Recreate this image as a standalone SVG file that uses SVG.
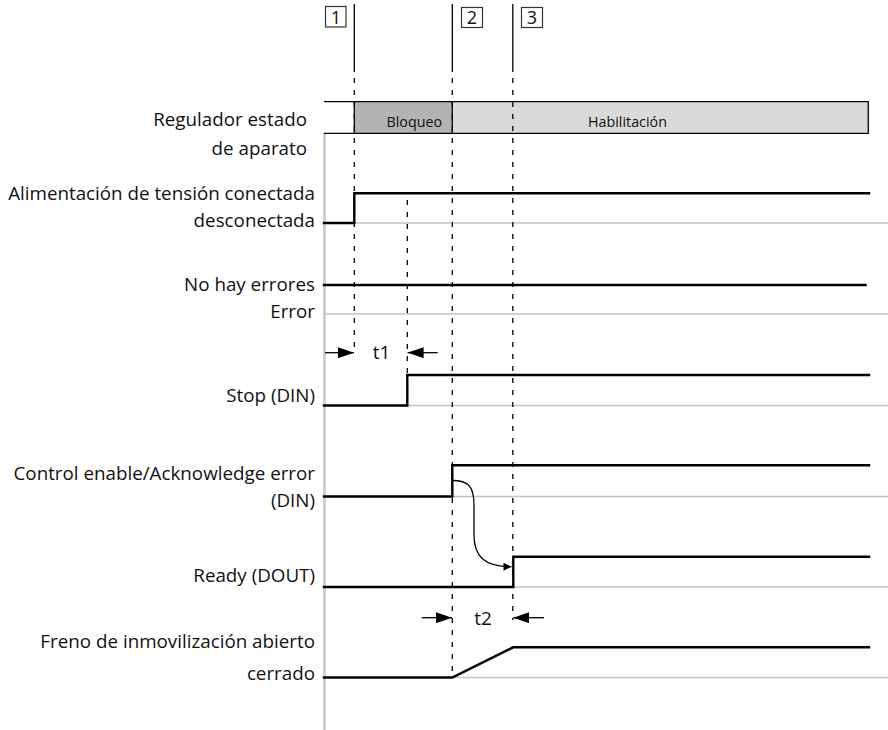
<svg xmlns="http://www.w3.org/2000/svg" width="888" height="730" viewBox="0 0 888 730">
<defs>
<style>
.lbl{font-family:"Open Sans","Noto Sans","Liberation Sans",sans-serif;font-size:18.8px;fill:#111;text-anchor:end}
.sm{font-family:"Open Sans","Noto Sans","Liberation Sans",sans-serif;font-size:14.3px;fill:#111}
.num{font-family:"Open Sans","Noto Sans","Liberation Sans",sans-serif;font-size:18px;fill:#111;text-anchor:middle}
.t{font-family:"Open Sans","Noto Sans","Liberation Sans",sans-serif;font-size:19px;fill:#111;text-anchor:middle}
.base{stroke:#c4c4c4;stroke-width:1.6;fill:none}
.sig{stroke:#000;stroke-width:2.4;fill:none;stroke-linejoin:miter;stroke-linecap:square}
.solid{stroke:#000;stroke-width:1.3;fill:none}
.dash{stroke:#000;stroke-width:1.3;fill:none;stroke-dasharray:5 7}
.box{fill:#fff;stroke:#333;stroke-width:1.2}
.arr{stroke:#000;stroke-width:1.3;fill:none}
</style>
<marker id="ah" viewBox="0 0 16 11" refX="16" refY="5.5" markerWidth="16" markerHeight="11" markerUnits="userSpaceOnUse" orient="auto">
<path d="M0,0 L16,5.5 L0,11 z" fill="#000"/>
</marker>
<marker id="ahs" viewBox="0 0 10 10" refX="10" refY="5" markerWidth="9" markerHeight="8" markerUnits="userSpaceOnUse" orient="auto">
<path d="M0,0 L10,5 L0,10 z" fill="#000"/>
</marker>
</defs>
<rect width="888" height="730" fill="#fff"/>

<g id="labels">
<text class="lbl" x="307" y="125.5">Regulador estado</text>
<text class="lbl" x="307" y="155">de aparato</text>
<text class="lbl" x="315" y="200">Alimentación de tensión conectada</text>
<text class="lbl" x="315" y="227">desconectada</text>
<text class="lbl" x="315" y="291">No hay errores</text>
<text class="lbl" x="315" y="318">Error</text>
<text class="lbl" x="315" y="401.5">Stop (DIN)</text>
<text class="lbl" x="315" y="480">Control enable/Acknowledge error</text>
<text class="lbl" x="315" y="507">(DIN)</text>
<text class="lbl" x="315" y="581.5">Ready (DOUT)</text>
<text class="lbl" x="315" y="648">Freno de inmovilización abierto</text>
<text class="lbl" x="315" y="680">cerrado</text>
</g>

<g id="axis">
<line x1="324.5" y1="133" x2="324.5" y2="730" stroke="#c8c8c8" stroke-width="2.6"/>
<line class="base" x1="324" y1="223" x2="888" y2="223"/>
<line class="base" x1="324" y1="314" x2="888" y2="314"/>
<line class="base" x1="324" y1="405.5" x2="888" y2="405.5"/>
<line class="base" x1="324" y1="496.5" x2="888" y2="496.5"/>
<line class="base" x1="324" y1="587" x2="888" y2="587"/>
<line class="base" x1="324" y1="677.5" x2="888" y2="677.5"/>
</g>

<g id="status-bar">
<rect x="354.3" y="101.7" width="98" height="31.6" fill="#b3b3b3"/>
<rect x="452.3" y="101.7" width="416" height="31.6" fill="#dadada"/>
<line class="solid" x1="324" y1="101.7" x2="868.3" y2="101.7"/>
<line class="solid" x1="324" y1="133.3" x2="868.3" y2="133.3"/>
<line x1="868.3" y1="101" x2="868.3" y2="134" stroke="#222" stroke-width="1.6"/>
<text class="sm" x="386.5" y="127">Bloqueo</text>
<text class="sm" x="588" y="127">Habilitación</text>
</g>

<g id="markers">
<g id="m1"><rect class="box" x="325.5" y="6.5" width="20.5" height="20.5"/><text class="num" x="335.8" y="23.5">1</text></g>
<g id="m2"><rect class="box" x="461.5" y="7.5" width="21" height="20"/><text class="num" x="472" y="24">2</text></g>
<g id="m3"><rect class="box" x="521.5" y="7.5" width="21" height="20"/><text class="num" x="532" y="24">3</text></g>
</g>

<g id="time-lines">
<line class="solid" x1="354.3" y1="4" x2="354.3" y2="72"/>
<line class="dash" x1="354.3" y1="78" x2="354.3" y2="352"/>
<line class="solid" x1="354.3" y1="101.7" x2="354.3" y2="133.3"/>
<line class="solid" x1="452.3" y1="4" x2="452.3" y2="72"/>
<line class="dash" x1="452.3" y1="78" x2="452.3" y2="677"/>
<line class="solid" x1="452.3" y1="101.7" x2="452.3" y2="133.3"/>
<line class="solid" x1="512.8" y1="4" x2="512.8" y2="72"/>
<line class="dash" x1="512.8" y1="78" x2="512.8" y2="620"/>
<line class="dash" x1="407.3" y1="200" x2="407.3" y2="375"/>
</g>

<g id="signals">
<path class="sig" d="M324,223 H354.3 V193.3 H869"/>
<path class="sig" d="M324,285 H865.5"/>
<path class="sig" d="M324,405.5 H407.3 V375 H869"/>
<path class="sig" d="M324,496.5 H452.3 V465.3 H869"/>
<path class="sig" d="M324,587 H513.3 V556.7 H869"/>
<path class="sig" d="M324,677.5 H452.3 L513.3,647.3 H869"/>
</g>

<g id="connectors">
<line class="arr" x1="325" y1="352.7" x2="354" y2="352.7" marker-end="url(#ah)"/>
<line class="arr" x1="437.7" y1="352.7" x2="407.6" y2="352.7" marker-end="url(#ah)"/>
<text class="t" x="381.5" y="359">t1</text>
<line class="arr" x1="421.7" y1="617.7" x2="452" y2="617.7" marker-end="url(#ah)"/>
<line class="arr" x1="544" y1="617.7" x2="513.2" y2="617.7" marker-end="url(#ah)"/>
<text class="t" x="483" y="624.5">t2</text>
<path class="arr" d="M452.5,480.5 C468,480.5 474,486 474,505 L474,535 C474,556 484,566.7 511.5,566.7" stroke-width="1.2" marker-end="url(#ahs)"/>
</g>
</svg>
